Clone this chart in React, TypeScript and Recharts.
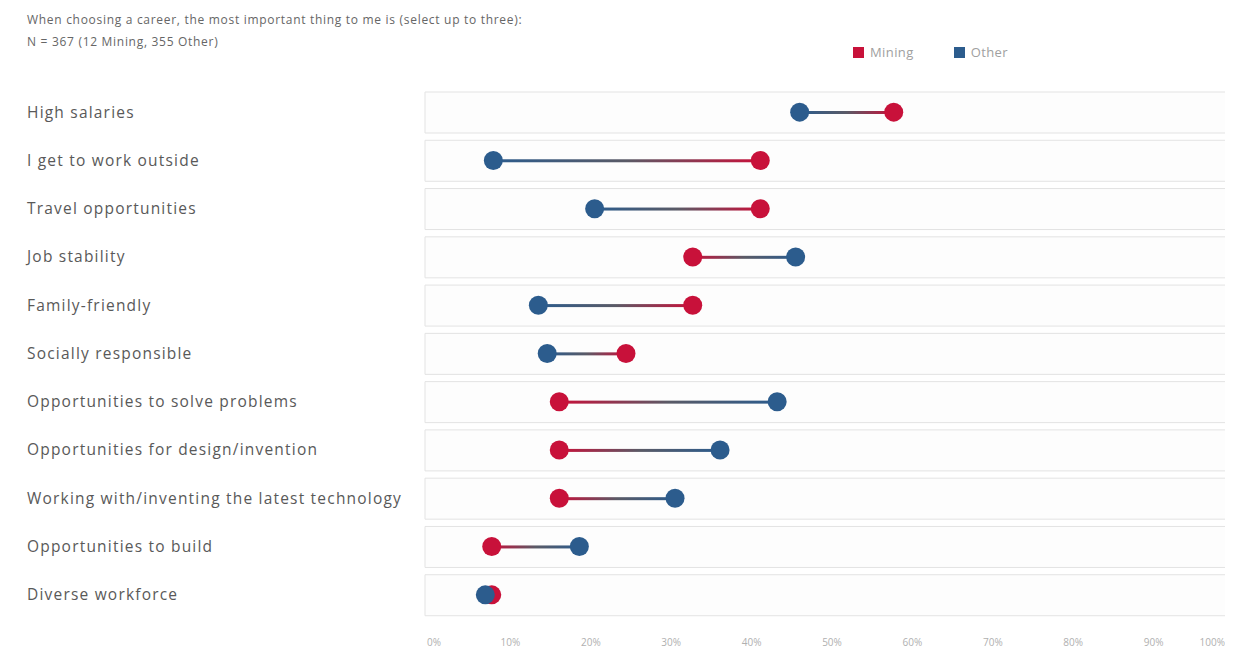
import { ComposedChart, Bar, Line, XAxis, YAxis } from 'recharts'

// Survey: share of respondents picking each item (percent)
const categories = [
  'High salaries',
  'I get to work outside',
  'Travel opportunities',
  'Job stability',
  'Family-friendly',
  'Socially responsible',
  'Opportunities to solve problems',
  'Opportunities for design/invention',
  'Working with/inventing the latest technology',
  'Opportunities to build',
  'Diverse workforce',
]
const miningValues = [58.3, 41.7, 41.7, 33.3, 33.3, 25.0, 16.7, 16.7, 16.7, 8.3, 8.3]
const otherValues = [46.6, 8.5, 21.1, 46.1, 14.1, 15.2, 43.8, 36.7, 31.1, 19.2, 7.5]
const xTicks = [0, 10, 20, 30, 40, 50, 60, 70, 80, 90, 100]

const MINING = '#c8113a'
const OTHER = '#2c5c8d'
const FONT = '"Open Sans", sans-serif'

const data = categories.map((name, i) => ({
  name,
  mining: miningValues[i],
  other: otherValues[i],
}))

const rangeKey = (d: { mining: number; other: number }) => [
  Math.min(d.mining, d.other),
  Math.max(d.mining, d.other),
]

// connector line drawn in the middle of each row band
function Connector(props: any) {
  const { x, y, width, height, payload } = props
  if (width == null || height == null) return null
  const grad = payload.mining > payload.other ? 'url(#blueToRed)' : 'url(#redToBlue)'
  return <rect x={x} y={y + height / 2 - 1.5} width={Math.max(width, 1)} height={3} fill={grad} />
}

function CategoryTick(props: any) {
  const { y, payload } = props
  return (
    <text
      x={19}
      y={y}
      dy="0.35em"
      textAnchor="start"
      fill="#595959"
      fontSize={15.5}
      letterSpacing={1.2}
      fontFamily={FONT}
    >
      {payload.value}
    </text>
  )
}

function PercentTick(props: any) {
  const { x, y, payload, index } = props
  const last = xTicks.length - 1
  const anchor = index === 0 ? 'start' : index === last ? 'end' : 'middle'
  const dx = index === 0 ? 2 : index === last ? -4 : 5
  return (
    <text x={x + dx} y={y} dy="0.71em" textAnchor={anchor} fill="#b0b0b0" fontSize={10} fontFamily={FONT}>
      {payload.value}%
    </text>
  )
}

export default function App() {
  return (
    <div style={{ position: 'relative', width: 1225, height: 645, fontFamily: FONT }}>
      <div
        style={{
          position: 'absolute',
          left: 19,
          top: 1,
          fontSize: 12,
          letterSpacing: 0.7,
          color: '#666',
          lineHeight: '22px',
        }}
      >
        <div>When choosing a career, the most important thing to me is (select up to three):</div>
        <div>N = 367 (12 Mining, 355 Other)</div>
      </div>
      <div
        style={{
          position: 'absolute',
          left: 845,
          top: 35,
          display: 'flex',
          alignItems: 'center',
          fontSize: 13,
          letterSpacing: 0.4,
          color: '#a0a0a0',
        }}
      >
        <span style={{ width: 11, height: 11, background: MINING, display: 'inline-block', marginRight: 6 }} />
        <span style={{ marginRight: 40 }}>Mining</span>
        <span style={{ width: 11, height: 11, background: OTHER, display: 'inline-block', marginRight: 6 }} />
        <span>Other</span>
      </div>
      <div style={{ position: 'absolute', left: 0, top: 0 }}>
        <ComposedChart
          width={1225}
          height={645}
          data={data}
          layout="vertical"
          margin={{ top: 80, right: 4, bottom: 4, left: 0 }}
        >
          <defs>
            <linearGradient id="blueToRed" x1="0" y1="0" x2="1" y2="0">
              <stop offset="0%" stopColor={OTHER} />
              <stop offset="50%" stopColor="#5a5a66" />
              <stop offset="100%" stopColor={MINING} />
            </linearGradient>
            <linearGradient id="redToBlue" x1="0" y1="0" x2="1" y2="0">
              <stop offset="0%" stopColor={MINING} />
              <stop offset="50%" stopColor="#5a5a66" />
              <stop offset="100%" stopColor={OTHER} />
            </linearGradient>
          </defs>
          <XAxis
            type="number"
            domain={[0, 100]}
            ticks={xTicks}
            axisLine={false}
            tickLine={false}
            tickSize={0}
            tickMargin={20}
            height={30}
            tick={<PercentTick />}
            interval={0}
          />
          <YAxis
            type="category"
            dataKey="name"
            width={417}
            axisLine={false}
            tickLine={false}
            tick={<CategoryTick />}
            interval={0}
          />
          <Bar
            dataKey={rangeKey}
            barSize={41}
            background={{ fill: '#fdfdfd', stroke: '#e3e3e3', strokeWidth: 1 }}
            shape={<Connector />}
            isAnimationActive={false}
          />
          <Line
            dataKey="mining"
            stroke="none"
            dot={{ r: 9.5, fill: MINING, stroke: MINING, strokeWidth: 0 }}
            activeDot={false}
            isAnimationActive={false}
          />
          <Line
            dataKey="other"
            stroke="none"
            dot={{ r: 9.5, fill: OTHER, stroke: OTHER, strokeWidth: 0 }}
            activeDot={false}
            isAnimationActive={false}
          />
        </ComposedChart>
      </div>
    </div>
  )
}
